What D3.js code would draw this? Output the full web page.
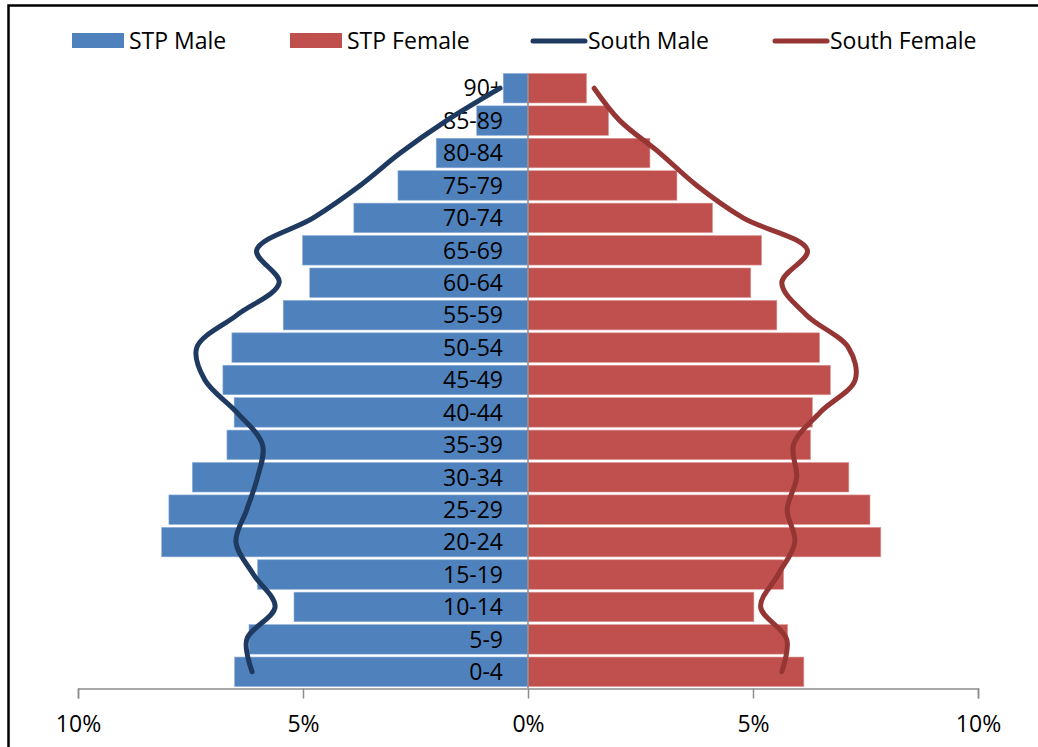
<!DOCTYPE html>
<html>
<head>
<meta charset="utf-8">
<script src="https://cdn.jsdelivr.net/npm/d3@7"></script>
<style>
  html, body { margin: 0; padding: 0; background: #fff; }
  svg { display: block; }
  text { font-family: "Open Sans", "Noto Sans", sans-serif; fill: #000; }
</style>
</head>
<body>
<svg id="chart" width="1038" height="747"></svg>
<script>
const AGE_GROUPS = ["0-4", "5-9", "10-14", "15-19", "20-24", "25-29", "30-34", "35-39", "40-44",
  "45-49", "50-54", "55-59", "60-64", "65-69", "70-74", "75-79", "80-84", "85-89", "90+"];

// percent of population
const STP_MALE = [6.52, 6.2, 5.2, 6.01, 8.14, 7.98, 7.46, 6.69, 6.53,
  6.78, 6.58, 5.44, 4.85, 5.01, 3.87, 2.89, 2.04, 1.14, 0.55];
const STP_FEMALE = [6.13, 5.77, 5.02, 5.68, 7.84, 7.6, 7.13, 6.28, 6.32,
  6.72, 6.48, 5.53, 4.95, 5.19, 4.1, 3.31, 2.71, 1.79, 1.3];
const SOUTH_MALE = [6.13, 6.25, 5.62, 6.1, 6.49, 6.25, 6.01, 5.9, 6.47,
  7.18, 7.36, 6.47, 5.53, 6.03, 4.77, 3.73, 2.84, 1.81, 0.62];
const SOUTH_FEMALE = [5.64, 5.75, 5.17, 5.56, 5.93, 5.76, 5.97, 5.9, 6.49,
  7.27, 7.12, 6.19, 5.64, 6.21, 4.78, 3.75, 2.93, 2.04, 1.47];

const X_TICKS = [-10, -5, 0, 5, 10];
const X_TICK_LABELS = ["10%", "5%", "0%", "5%", "10%"];

const LEGEND_ITEMS = [
  { label: "STP Male", type: "rect", color: "#4F81BD", x: 72 },
  { label: "STP Female", type: "rect", color: "#C0504D", x: 290 },
  { label: "South Male", type: "line", color: "#1F3A60", x: 531 },
  { label: "South Female", type: "line", color: "#963634", x: 773 }
];

const FONT_SIZE = 23;

const svg = d3.select("#chart");

// outer frame (runs past the right and bottom edge)
svg.append("rect")
  .attr("x", 8.5)
  .attr("y", 5.5)
  .attr("width", 1100)
  .attr("height", 800)
  .attr("fill", "none")
  .attr("stroke", "#000")
  .attr("stroke-width", 2.5);

const x = d3.scaleLinear().domain([-10, 10]).range([78, 978]);
const y = d3.scaleBand()
  .domain(AGE_GROUPS)
  .range([688, 72])
  .paddingInner(0.09)
  .paddingOuter(0.045);
const yMid = (i) => y(AGE_GROUPS[i]) + y.bandwidth() / 2;

// bars
const bars = svg.append("g");
bars.selectAll("rect.male")
  .data(STP_MALE)
  .join("rect")
  .attr("class", "male")
  .attr("x", (d) => x(-d))
  .attr("y", (d, i) => y(AGE_GROUPS[i]))
  .attr("width", (d) => x(0) - x(-d))
  .attr("height", y.bandwidth())
  .attr("fill", "#4F81BD")
  .attr("stroke", "#8FB0D8")
  .attr("stroke-width", 0.6);

bars.selectAll("rect.female")
  .data(STP_FEMALE)
  .join("rect")
  .attr("class", "female")
  .attr("x", x(0))
  .attr("y", (d, i) => y(AGE_GROUPS[i]))
  .attr("width", (d) => x(d) - x(0))
  .attr("height", y.bandwidth())
  .attr("fill", "#C0504D")
  .attr("stroke", "#DC9A98")
  .attr("stroke-width", 0.6);

// zero line
svg.append("line")
  .attr("x1", x(0))
  .attr("x2", x(0))
  .attr("y1", y("90+"))
  .attr("y2", 688)
  .attr("stroke", "#8C8C8C")
  .attr("stroke-width", 1.5);

// x axis
const axis = svg.append("g")
  .attr("transform", "translate(0,688.5)")
  .call(d3.axisBottom(x)
    .tickValues(X_TICKS)
    .tickSize(10)
    .tickPadding(17)
    .tickFormat((d, i) => X_TICK_LABELS[i]));
axis.select(".domain").attr("stroke", "#8C8C8C").attr("stroke-width", 1.5);
axis.selectAll(".tick line").attr("stroke", "#8C8C8C").attr("stroke-width", 1.5);
axis.selectAll(".tick text")
  .attr("font-size", FONT_SIZE)
  .attr("font-family", "'Open Sans', 'Noto Sans', sans-serif")
  .attr("fill", "#000");

// age labels
svg.append("g")
  .selectAll("text")
  .data(AGE_GROUPS)
  .join("text")
  .attr("x", 503)
  .attr("y", (d, i) => yMid(i))
  .attr("dy", "0.36em")
  .attr("text-anchor", "end")
  .attr("font-size", FONT_SIZE)
  .text((d) => d);

// smoothed comparison lines
const line = d3.line()
  .x((d) => d[0])
  .y((d) => d[1])
  .curve(d3.curveCatmullRom.alpha(0.5));

svg.append("path")
  .datum(SOUTH_MALE.map((v, i) => [x(-v), yMid(i)]))
  .attr("d", line)
  .attr("fill", "none")
  .attr("stroke", "#1F3A60")
  .attr("stroke-width", 5)
  .attr("stroke-linecap", "round");

svg.append("path")
  .datum(SOUTH_FEMALE.map((v, i) => [x(v), yMid(i)]))
  .attr("d", line)
  .attr("fill", "none")
  .attr("stroke", "#963634")
  .attr("stroke-width", 5)
  .attr("stroke-linecap", "round");

// legend
const legend = svg.append("g");
LEGEND_ITEMS.forEach((item) => {
  if (item.type === "rect") {
    legend.append("rect")
      .attr("x", item.x)
      .attr("y", 33)
      .attr("width", 52)
      .attr("height", 15)
      .attr("fill", item.color);
  } else {
    legend.append("line")
      .attr("x1", item.x + 2)
      .attr("x2", item.x + 54)
      .attr("y1", 41)
      .attr("y2", 41)
      .attr("stroke", item.color)
      .attr("stroke-width", 5)
      .attr("stroke-linecap", "round");
  }
  legend.append("text")
    .attr("x", item.x + 57)
    .attr("y", 41)
    .attr("dy", "0.36em")
    .attr("font-size", FONT_SIZE)
    .text(item.label);
});
</script>
</body>
</html>
